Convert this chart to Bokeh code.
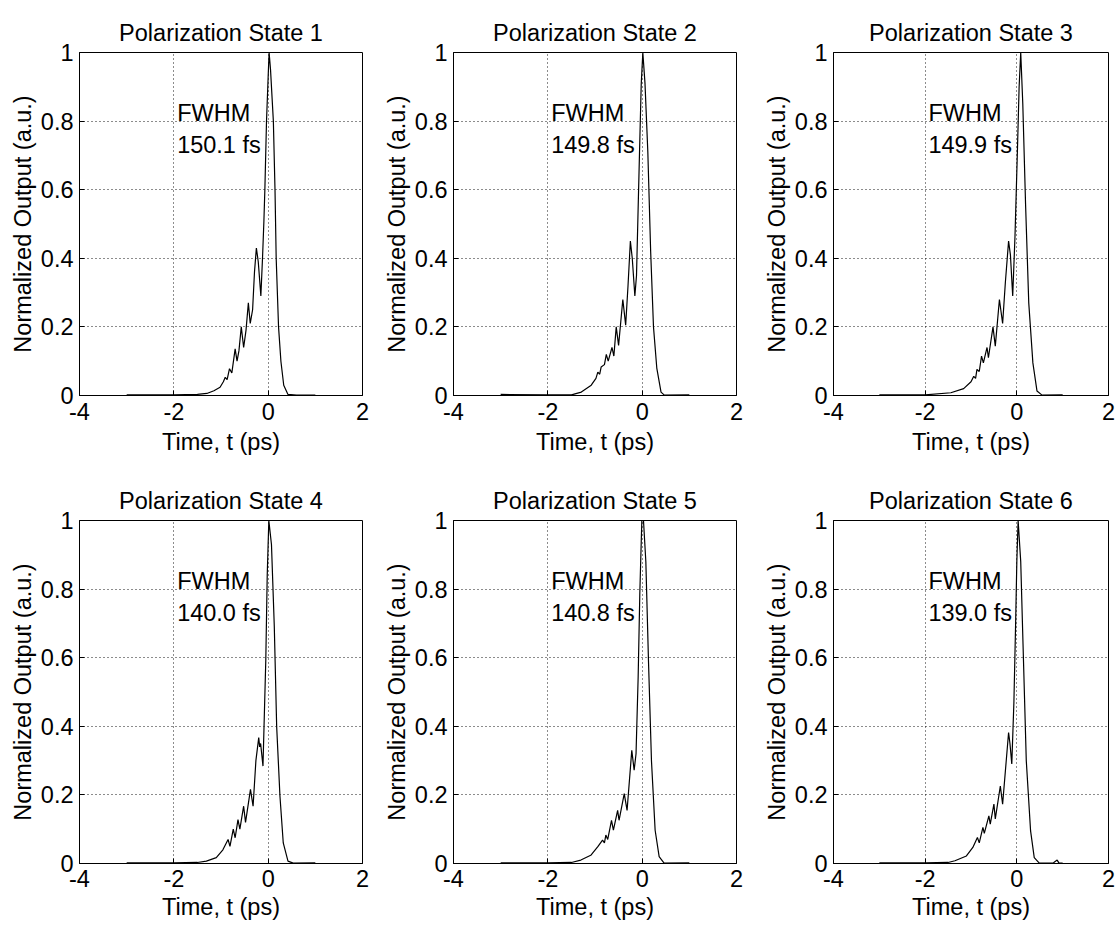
from bokeh.plotting import figure
from bokeh.layouts import column, row
from bokeh.models import FixedTicker, CustomJSTickFormatter, Range1d
from bokeh.core.properties import value
from bokeh.embed import file_html
from bokeh.resources import INLINE

TITLES = ["Polarization State 1", "Polarization State 2", "Polarization State 3",
          "Polarization State 4", "Polarization State 5", "Polarization State 6"]
FWHM = ["150.1 fs", "149.8 fs", "149.9 fs", "140.0 fs", "140.8 fs", "139.0 fs"]
X_TICKS = [-4, -2, 0, 2]
Y_TICKS = [0, 0.2, 0.4, 0.6, 0.8, 1]
X_LABEL = "Time, t (ps)"
Y_LABEL = "Normalized Output (a.u.)"

T1 = [-3.0, -2.0, -1.5, -1.3, -1.15, -1.02, -0.95, -0.91, -0.87, -0.82, -0.77, -0.70, -0.66, -0.62,
      -0.57, -0.52, -0.47, -0.42, -0.38, -0.33, -0.29, -0.25, -0.21, -0.155, -0.12, -0.09, -0.07,
      -0.035, 0.0, 0.02, 0.05, 0.11, 0.145, 0.17, 0.22, 0.27, 0.33, 0.42, 0.6, 1.0]
Y1 = [0.002, 0.002, 0.003, 0.006, 0.014, 0.024, 0.04, 0.053, 0.046, 0.078, 0.066, 0.136, 0.10, 0.13,
      0.20, 0.14, 0.19, 0.27, 0.21, 0.25, 0.36, 0.43, 0.39, 0.29, 0.40, 0.51, 0.60,
      0.80, 0.93, 1.0, 0.95, 0.80, 0.60, 0.40, 0.20, 0.10, 0.03, 0.003, 0.001, 0.001]

T2 = [-3.0, -2.0, -1.5, -1.29, -1.08, -0.98, -0.94, -0.90, -0.87, -0.80, -0.76, -0.72, -0.64, -0.60,
      -0.55, -0.50, -0.41, -0.35, -0.30, -0.25, -0.21, -0.155, -0.12, -0.09, -0.056, -0.02, 0.014,
      0.06, 0.12, 0.18, 0.24, 0.31, 0.40, 0.47, 1.0]
Y2 = [0.003, 0.002, 0.002, 0.01, 0.03, 0.05, 0.068, 0.062, 0.083, 0.09, 0.12, 0.10, 0.14, 0.115,
      0.20, 0.146, 0.28, 0.205, 0.32, 0.45, 0.40, 0.29, 0.35, 0.52, 0.71, 0.907, 1.0,
      0.91, 0.71, 0.42, 0.20, 0.08, 0.01, 0.001, 0.002]

T3 = [-3.0, -2.0, -1.44, -1.16, -1.0, -0.94, -0.90, -0.87, -0.82, -0.77, -0.73, -0.65, -0.62, -0.52,
      -0.47, -0.38, -0.31, -0.25, -0.18, -0.14, -0.09, -0.04, 0.014, 0.05, 0.085, 0.13, 0.19, 0.26,
      0.35, 0.44, 0.55, 1.0]
Y3 = [0.002, 0.002, 0.008, 0.02, 0.04, 0.056, 0.05, 0.076, 0.07, 0.115, 0.095, 0.14, 0.11, 0.20,
      0.144, 0.28, 0.21, 0.33, 0.45, 0.41, 0.29, 0.465, 0.72, 0.90, 1.0, 0.85, 0.56, 0.27,
      0.095, 0.013, 0.001, 0.002]

T4 = [-3.0, -2.0, -1.5, -1.31, -1.10, -0.96, -0.85, -0.81, -0.74, -0.70, -0.64, -0.60, -0.52, -0.48,
      -0.375, -0.32, -0.26, -0.20, -0.18, -0.16, -0.11, -0.05, -0.02, 0.014, 0.03, 0.07, 0.13, 0.18,
      0.25, 0.32, 0.42, 0.53, 1.0]
Y4 = [0.002, 0.002, 0.003, 0.007, 0.017, 0.04, 0.07, 0.05, 0.10, 0.075, 0.128, 0.10, 0.167, 0.12,
      0.216, 0.167, 0.30, 0.367, 0.34, 0.35, 0.284, 0.595, 0.84, 1.0, 0.98, 0.93, 0.69, 0.40,
      0.196, 0.06, 0.007, 0.001, 0.002]

T5 = [-3.0, -2.0, -1.5, -1.3, -1.09, -0.94, -0.84, -0.80, -0.77, -0.73, -0.65, -0.61, -0.52, -0.49,
      -0.38, -0.32, -0.22, -0.17, -0.13, -0.085, -0.05, -0.007, 0.028, 0.078, 0.134, 0.197, 0.275,
      0.36, 0.465, 1.0]
Y5 = [0.002, 0.002, 0.003, 0.01, 0.024, 0.049, 0.068, 0.06, 0.083, 0.07, 0.126, 0.097, 0.155, 0.126,
      0.204, 0.155, 0.33, 0.272, 0.32, 0.544, 0.787, 1.0, 1.0, 0.88, 0.59, 0.30, 0.097,
      0.02, 0.001, 0.002]

T6 = [-3.0, -2.0, -1.5, -1.35, -1.10, -0.96, -0.86, -0.82, -0.74, -0.71, -0.61, -0.58, -0.50, -0.47,
      -0.36, -0.31, -0.18, -0.15, -0.11, -0.064, -0.028, 0.0, 0.028, 0.085, 0.135, 0.206, 0.30,
      0.38, 0.49, 0.80, 0.88, 0.92, 1.0]
Y6 = [0.002, 0.002, 0.003, 0.008, 0.022, 0.047, 0.076, 0.06, 0.105, 0.088, 0.139, 0.115, 0.173, 0.13,
      0.226, 0.173, 0.382, 0.35, 0.29, 0.47, 0.69, 0.88, 1.0, 0.88, 0.64, 0.30, 0.095,
      0.017, 0.001, 0.002, 0.01, 0.001, 0.001]

TS = [T1, T2, T3, T4, T5, T6]
YS = [Y1, Y2, Y3, Y4, Y5, Y6]

# annotation placement (data coords)
LABEL_X = -1.93
LABEL_Y_TOP = 0.825
LABEL_Y_BOT = 0.729

FONT = "Liberation Sans"
FS = "23.5px"

WIDTHS = [380, 380, 357]
MB_LEFT = [79, 72, 67]
MB_RIGHT = [18, 24, 9]
HEIGHTS = [462, 464]
MB_TOP = [52, 58]
MB_BOTTOM = [67, 63]
X_TICK_STANDOFF = [7, 6]
X_LABEL_STANDOFF = [6, 4]

fmt_code = "return (Math.round(tick*10)/10).toString();"

figs = []
for i in range(6):
    c, r = i % 3, i // 3
    p = figure(width=WIDTHS[c], height=HEIGHTS[r], output_backend="svg", toolbar_location=None,
               x_range=Range1d(-4, 2), y_range=Range1d(0, 1),
               min_border_left=MB_LEFT[c], min_border_right=MB_RIGHT[c],
               min_border_top=MB_TOP[r], min_border_bottom=MB_BOTTOM[r],
               title=TITLES[i])
    p.background_fill_color = "white"
    p.border_fill_color = "white"
    p.outline_line_color = "black"
    p.outline_line_width = 1
    p.outline_line_alpha = 1

    p.title.text_font = FONT
    p.title.text_font_size = FS
    p.title.text_font_style = "normal"
    p.title.align = "center"
    p.title.text_color = "black"
    p.title.standoff = 13

    p.xaxis.ticker = FixedTicker(ticks=X_TICKS)
    p.yaxis.ticker = FixedTicker(ticks=Y_TICKS)
    for ax in (p.xaxis[0], p.yaxis[0]):
        ax.formatter = CustomJSTickFormatter(code=fmt_code)
        ax.major_label_text_font = FONT
        ax.major_label_text_font_size = FS
        ax.major_label_text_color = "black"
        ax.axis_label_text_font = FONT
        ax.axis_label_text_font_size = FS
        ax.axis_label_text_font_style = "normal"
        ax.axis_label_text_color = "black"
        ax.axis_line_color = "black"
        ax.major_tick_in = 5
        ax.major_tick_out = 0
        ax.major_tick_line_color = "black"
        ax.minor_tick_line_color = None
        ax.major_label_standoff = 6
        ax.axis_label_standoff = 2
    p.xaxis.major_label_standoff = X_TICK_STANDOFF[r]
    p.xaxis.axis_label_standoff = X_LABEL_STANDOFF[r]
    p.xaxis.axis_label = X_LABEL
    p.yaxis.axis_label = Y_LABEL

    for g in (p.xgrid[0], p.ygrid[0]):
        g.grid_line_color = "black"
        g.grid_line_dash = "1 3"
        g.grid_line_width = 1
        g.grid_line_alpha = 0.9

    p.line(TS[i], YS[i], line_color="black", line_width=1.2)
    p.text(x=[LABEL_X, LABEL_X], y=[LABEL_Y_TOP, LABEL_Y_BOT], text=["FWHM", FWHM[i]],
           text_font=value(FONT), text_font_size=FS, text_baseline="alphabetic",
           text_align="left", text_color="black")
    figs.append(p)

layout = column(row(*figs[:3]), row(*figs[3:]))
open("out.html", "w").write(file_html(layout, INLINE))
